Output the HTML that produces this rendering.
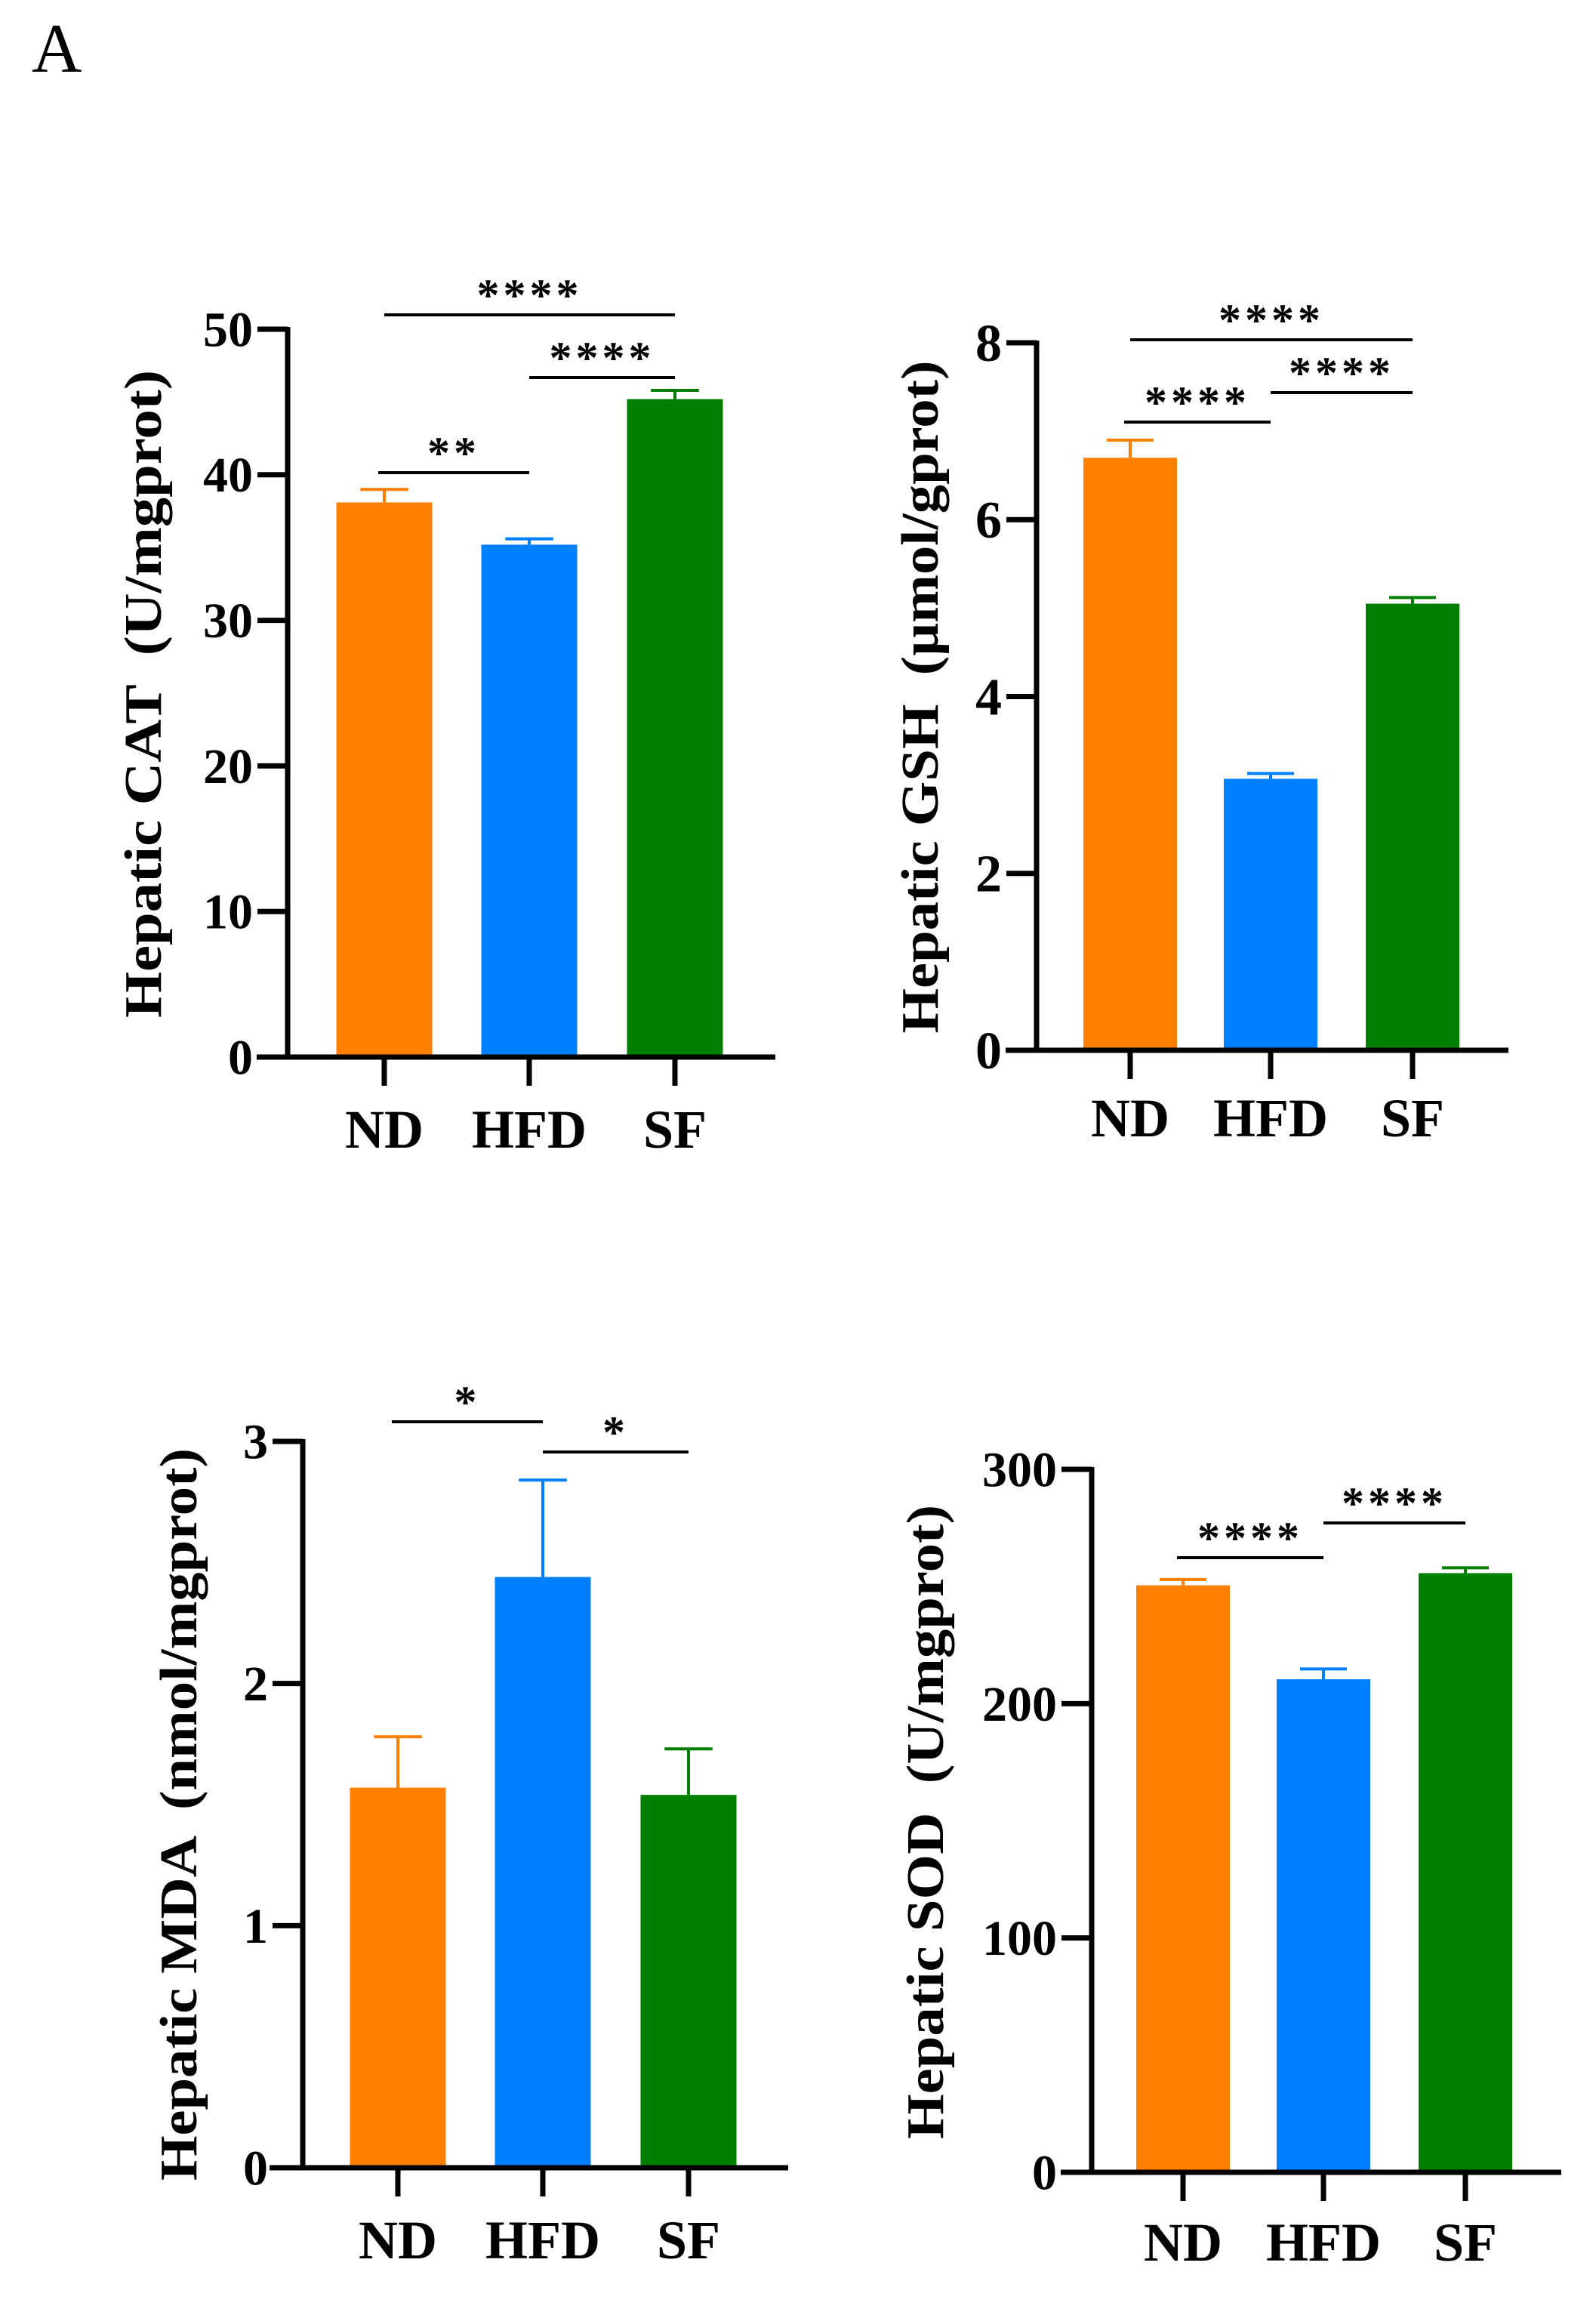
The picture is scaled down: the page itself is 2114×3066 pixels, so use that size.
<!DOCTYPE html>
<html><head><meta charset="utf-8">
<style>
html,body{margin:0;padding:0;background:#fff;}
svg{display:block;}
text{font-family:"Liberation Serif","Times New Roman",serif;white-space:pre;}
</style></head>
<body>
<svg id="fig" width="2114" height="3066" viewBox="0 0 2114 3066" xmlns="http://www.w3.org/2000/svg">
<rect width="2114" height="3066" fill="#fff"/>
<text x="42" y="95" font-size="92">A</text>
</svg>
<script>
const categories = ["ND","HFD","SF"];
const colors = ["#FF7F00","#0080FF","#007F00"];
const catValues = [38.1, 35.2, 45.2];
const catErrors = [0.9, 0.4, 0.6];
const catTicks = [0,10,20,30,40,50];
const gshValues = [6.70, 3.07, 5.05];
const gshErrors = [0.20, 0.06, 0.07];
const gshTicks = [0,2,4,6,8];
const mdaValues = [1.57, 2.44, 1.54];
const mdaErrors = [0.21, 0.40, 0.19];
const mdaTicks = [0,1,2,3];
const sodValues = [250.5, 210.4, 255.7];
const sodErrors = [2.5, 4.4, 2.3];
const sodTicks = [0,100,200,300];
const catSig = [[0,2,"****"],[1,2,"****"],[0,1,"**"]];
const gshSig = [[0,2,"****"],[1,2,"****"],[0,1,"****"]];
const mdaSig = [[0,1,"*"],[1,2,"*"]];
const sodSig = [[0,1,"****"],[1,2,"****"]];

const NS = "http://www.w3.org/2000/svg";
const svg = document.getElementById('fig');
function mk(tag, attrs, parent, txt){
  const e = document.createElementNS(NS, tag);
  for (const k in attrs) e.setAttribute(k, attrs[k]);
  if (txt !== undefined) e.textContent = txt;
  parent.appendChild(e);
  return e;
}

const panels = [
 {id:"cat", title:"Hepatic CAT  (U/mgprot)", values:catValues, errors:catErrors, ticks:catTicks, sig:catSig,
  ax:381, y0:1400, yTop:436, xStart:340, xEnd:1027, centers:[509,701,894], barW:127,
  labX:189, labY:919, labLen:858, catY:1520, sigY:[417,500,626], tickFont:66},
 {id:"gsh", title:"Hepatic GSH  (\u00b5mol/gprot)", values:gshValues, errors:gshErrors, ticks:gshTicks, sig:gshSig,
  ax:1373, y0:1391, yTop:454, xStart:1332, xEnd:1998, centers:[1497,1683,1871], barW:124,
  labX:1218, labY:923, labLen:891, catY:1505, sigY:[450,520,559], tickFont:70},
 {id:"mda", title:"Hepatic MDA  (nmol/mgprot)", values:mdaValues, errors:mdaErrors, ticks:mdaTicks, sig:mdaSig,
  ax:401, y0:2871, yTop:1909, xStart:357, xEnd:1044, centers:[527,719,912], barW:127,
  labX:236, labY:2403, labLen:970, catY:2991, sigY:[1883,1923], tickFont:66},
 {id:"sod", title:"Hepatic SOD  (U/mgprot)", values:sodValues, errors:sodErrors, ticks:sodTicks, sig:sodSig,
  ax:1446, y0:2877, yTop:1946, xStart:1405, xEnd:2068, centers:[1567,1753,1941], barW:124,
  labX:1225, labY:2413, labLen:840, catY:2994, sigY:[2063,2017], tickFont:66}
];

panels.forEach(p => {
  const g = mk('g', {}, svg);
  
  
  const maxT = p.ticks[p.ticks.length-1];
  const yS = v => p.y0 - (v / maxT) * (p.y0 - p.yTop);

  p.values.forEach((v, i) => {
    const cx = p.centers[i];
    const top = yS(v);
    const r = mk('rect', {x: cx - p.barW/2, y: top, width: p.barW, height: p.y0 - top, fill: colors[i]}, g);
    
    
    const et = yS(v + p.errors[i]);
    const eg = mk('g', {stroke: colors[i], 'stroke-width': 4}, g);
    
    
    mk('line', {x1: cx, y1: top, x2: cx, y2: et}, eg);
    mk('line', {x1: cx - p.barW/4, y1: et, x2: cx + p.barW/4, y2: et}, eg);
  });

  const axg = mk('g', {stroke: '#000', 'stroke-width': 7, fill: 'none'}, g);
  
  
  mk('line', {x1: p.ax, y1: p.yTop - 3, x2: p.ax, y2: p.y0 + 3}, axg);
  mk('line', {x1: p.xStart, y1: p.y0, x2: p.xEnd, y2: p.y0}, axg);
  p.centers.forEach(cx => mk('line', {x1: cx, y1: p.y0, x2: cx, y2: p.y0 + 38}, axg));

  p.ticks.forEach(t => {
    const y = yS(t);
    mk('line', {x1: p.ax - 40, y1: y, x2: p.ax, y2: y}, axg);
    const tl = mk('text', {x: p.ax - 46, y: y + p.tickFont*0.34, 'font-size': p.tickFont, 'font-weight': 'bold', 'text-anchor': 'end'}, g, String(t));
    
    
  });

  categories.forEach((c, i) => {
    const t = mk('text', {x: p.centers[i], y: p.catY, 'font-size': 72, 'font-weight': 'bold', 'text-anchor': 'middle'}, g, c);
    
    
  });

  const yl = mk('text', {x: 0, y: 0, 'font-size': 70, 'font-weight': 'bold', 'text-anchor': 'middle',
    textLength: p.labLen, lengthAdjust: 'spacingAndGlyphs',
    transform: `translate(${p.labX + 24},${p.labY}) rotate(-90)`}, g, p.title);
  
  

  p.sig.forEach((s, k) => {
    const x1 = p.centers[s[0]] - (s[0] === 0 && s[1] === 1 ? 8 : 0);
    const x2 = p.centers[s[1]];
    const y = p.sigY[k];
    const sg = mk('g', {}, g);
    
    
    mk('line', {x1: x1, y1: y, x2: x2, y2: y, stroke: '#000', 'stroke-width': 4}, sg);
    mk('text', {x: (x1 + x2)/2, y: y - 6, 'font-size': 60, 'font-weight': 'bold', 'text-anchor': 'middle', 'letter-spacing': 5}, sg, s[2]);
  });
});
</script>
</body></html>
